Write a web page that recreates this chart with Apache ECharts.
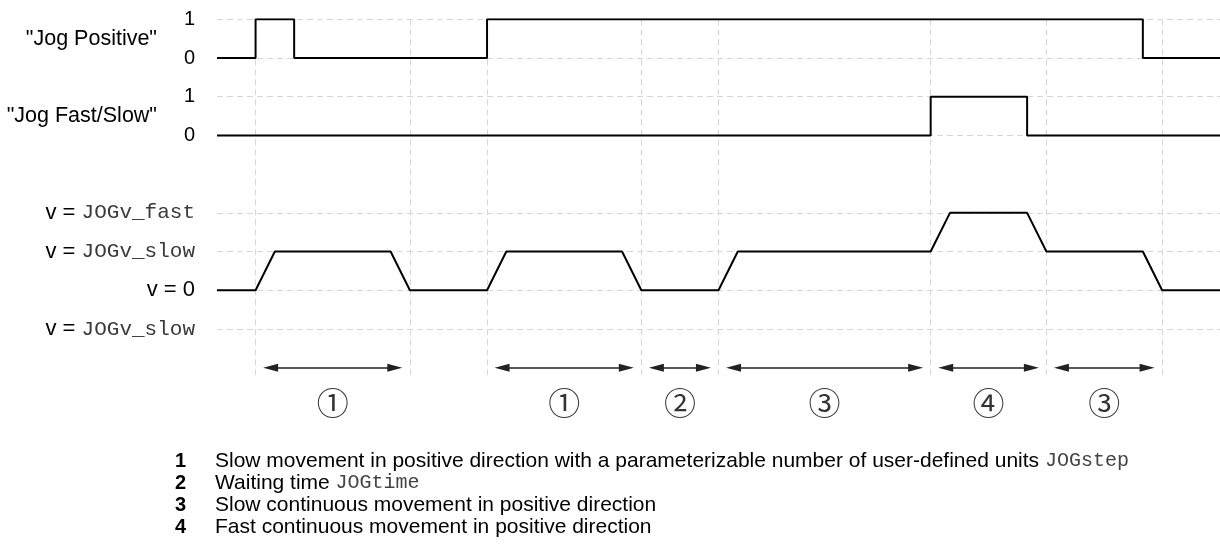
<!DOCTYPE html>
<html><head><meta charset="utf-8">
<script src="https://cdn.jsdelivr.net/npm/echarts@6/dist/echarts.min.js"></script>
<style>html,body{margin:0;padding:0;background:#fff}#c{width:1220px;height:553px}</style>
</head><body><div id="c"></div>
<script>
// ---- data ----
const tMin = -1, tMax = 25;
const gridTimes = [0, 4, 6, 10, 12, 17.5, 20.5, 23.5];
const yTickValues = [0, 1, 2, 3, 5, 6, 7, 8];
const yTickLabels = ['v = JOGv_slow', 'v = 0', 'v = JOGv_slow', 'v = JOGv_fast', '0', '1', '0', '1'];
const signalNames = ['"Jog Positive"', '"Jog Fast/Slow"'];
const signalNameLevels = [7.5, 5.5];

const jogPosT = [-1, 0, 1, 6, 23, 25];
const jogPosV = [0, 1, 0, 1, 0, 0];
const jogFastT = [-1, 17.5, 20, 25];
const jogFastV = [0, 1, 0, 0];
// velocity: 0 = stop, 1 = JOGv_slow, 2 = JOGv_fast
const velT = [-1, 0, 0.5, 3.5, 4, 6, 6.5, 9.5, 10, 12, 12.5, 17.5, 18, 20, 20.5, 23, 23.5, 25];
const velV = [0, 0, 1, 1, 0, 0, 1, 1, 0, 0, 1, 1, 2, 2, 1, 1, 0, 0];

const segStart = [0, 6, 10, 12, 17.5, 20.5];
const segEnd = [4, 10, 12, 17.5, 20.5, 23.5];
const segLabels = ['①', '①', '②', '③', '④', '③'];

const legendNums = ['1', '2', '3', '4'];
const legendTexts = [
  'Slow movement in positive direction with a parameterizable number of user-defined units ',
  'Waiting time ',
  'Slow continuous movement in positive direction',
  'Fast continuous movement in positive direction'
];
const legendCodes = ['JOGstep', 'JOGtime', '', ''];

// ---- layout constants ----
const JP_BASE = 7, JF_BASE = 5, V_BASE = 1, ARROW_Y = -1, NUM_Y = -1.9, GRID_TOP_LV = 8, GRID_BOT_LV = -1.2;
const SANS = '"Liberation Sans", Arial, sans-serif';
const MONO = '"Liberation Mono", "Courier New", monospace';
const lineStyleSig = { color: '#000', width: 2 };
const dash = { color: '#d6d6d6', width: 1, type: [6, 4] };

const chart = echarts.init(document.getElementById('c'), null, { renderer: 'canvas' });

const gridLinesData = [];
gridTimes.forEach(t => gridLinesData.push([{ coord: [t, GRID_TOP_LV] }, { coord: [t, GRID_BOT_LV] }]));
yTickValues.forEach(v => gridLinesData.push([{ coord: [tMin, v] }, { coord: [tMax, v] }]));

const arrowInset = 0.39;
const arrowData = segStart.map((s, i) => [{ coord: [s + arrowInset, ARROW_Y] }, { coord: [segEnd[i] - arrowInset, ARROW_Y] }]);

function yLabel(v) {
  const i = yTickValues.indexOf(v);
  if (i < 0) return '';
  const s = yTickLabels[i];
  if (s.indexOf('JOG') >= 0) {
    const p = s.split('= ');
    return '{v|' + p[0] + '= }{m|' + p[1] + '}';
  }
  if (s.indexOf('v') >= 0) return '{v|' + s + '}';
  return '{s|' + s + '}';
}

const legendY0 = 461, legendDy = 22;
const graphics = [];
legendNums.forEach((n, i) => {
  graphics.push({
    type: 'text', x: 175, y: legendY0 + i * legendDy, silent: true,
    style: { text: n, font: 'bold 20px ' + SANS, fill: '#000', align: 'left', verticalAlign: 'middle' }
  });
  graphics.push({
    type: 'text', x: 215, y: legendY0 + i * legendDy, silent: true,
    style: {
      text: '{t|' + legendTexts[i] + '}' + (legendCodes[i] ? '{c|' + legendCodes[i] + '}' : ''),
      verticalAlign: 'middle', align: 'left',
      rich: {
        t: { fontFamily: SANS, fontSize: 21, fill: '#000' },
        c: { fontFamily: MONO, fontSize: 20, fill: '#444' }
      }
    }
  });
});

chart.setOption({
  animation: false,
  grid: { left: 217, right: 0, top: 19.3, height: 387.1 },
  xAxis: { type: 'value', min: tMin, max: tMax, show: false },
  yAxis: [
    {
      type: 'value', min: -2, max: 8, interval: 1,
      axisLine: { show: false }, axisTick: { show: false }, splitLine: { show: false },
      axisLabel: {
        margin: 22, formatter: yLabel,
        rich: {
          s: { fontFamily: SANS, fontSize: 20, color: '#000' },
          v: { fontFamily: SANS, fontSize: 22, color: '#000' },
          m: { fontFamily: MONO, fontSize: 21, color: '#3a3a3a' }
        }
      }
    },
    {
      type: 'value', min: -2, max: 8, interval: 0.5, position: 'left', offset: 0,
      axisLine: { show: false }, axisTick: { show: false }, splitLine: { show: false },
      axisLabel: {
        margin: 60, fontFamily: SANS, fontSize: 21.5, color: '#000', padding: [0, 0, 4, 0],
        formatter: v => { const i = signalNameLevels.indexOf(v); return i < 0 ? '' : signalNames[i]; }
      }
    }
  ],
  series: [
    {
      name: 'grid', type: 'line', data: [], silent: true, z: 1,
      markLine: { silent: true, symbol: ['none', 'none'], label: { show: false }, lineStyle: dash, data: gridLinesData, animation: false }
    },
    {
      name: 'Jog Positive', type: 'line', step: 'end', symbol: 'none', z: 5, lineStyle: lineStyleSig,
      data: jogPosT.map((t, i) => [t, JP_BASE + jogPosV[i]])
    },
    {
      name: 'Jog Fast/Slow', type: 'line', step: 'end', symbol: 'none', z: 5, lineStyle: lineStyleSig,
      data: jogFastT.map((t, i) => [t, JF_BASE + jogFastV[i]])
    },
    {
      name: 'v', type: 'line', symbol: 'none', z: 5, lineStyle: lineStyleSig,
      data: velT.map((t, i) => [t, V_BASE + velV[i]])
    },
    {
      name: 'arrows', type: 'line', data: [], silent: true, z: 4,
      markLine: {
        silent: true, symbol: ['triangle', 'triangle'], symbolSize: [8, 15],
        label: { show: false }, lineStyle: { color: '#222', width: 1.6, type: 'solid' },
        itemStyle: { color: '#111' }, data: arrowData, animation: false
      }
    },
    {
      name: 'segments', type: 'scatter', symbolSize: 0, silent: true,
      data: segStart.map((s, i) => [(s + segEnd[i]) / 2, NUM_Y, segLabels[i]]),
      label: {
        show: true, position: 'inside', formatter: p => p.value[2],
        fontFamily: '"Noto Sans CJK JP", "DejaVu Sans", sans-serif', fontSize: 32, color: '#000'
      }
    }
  ],
  graphic: graphics
});
</script></body></html>
